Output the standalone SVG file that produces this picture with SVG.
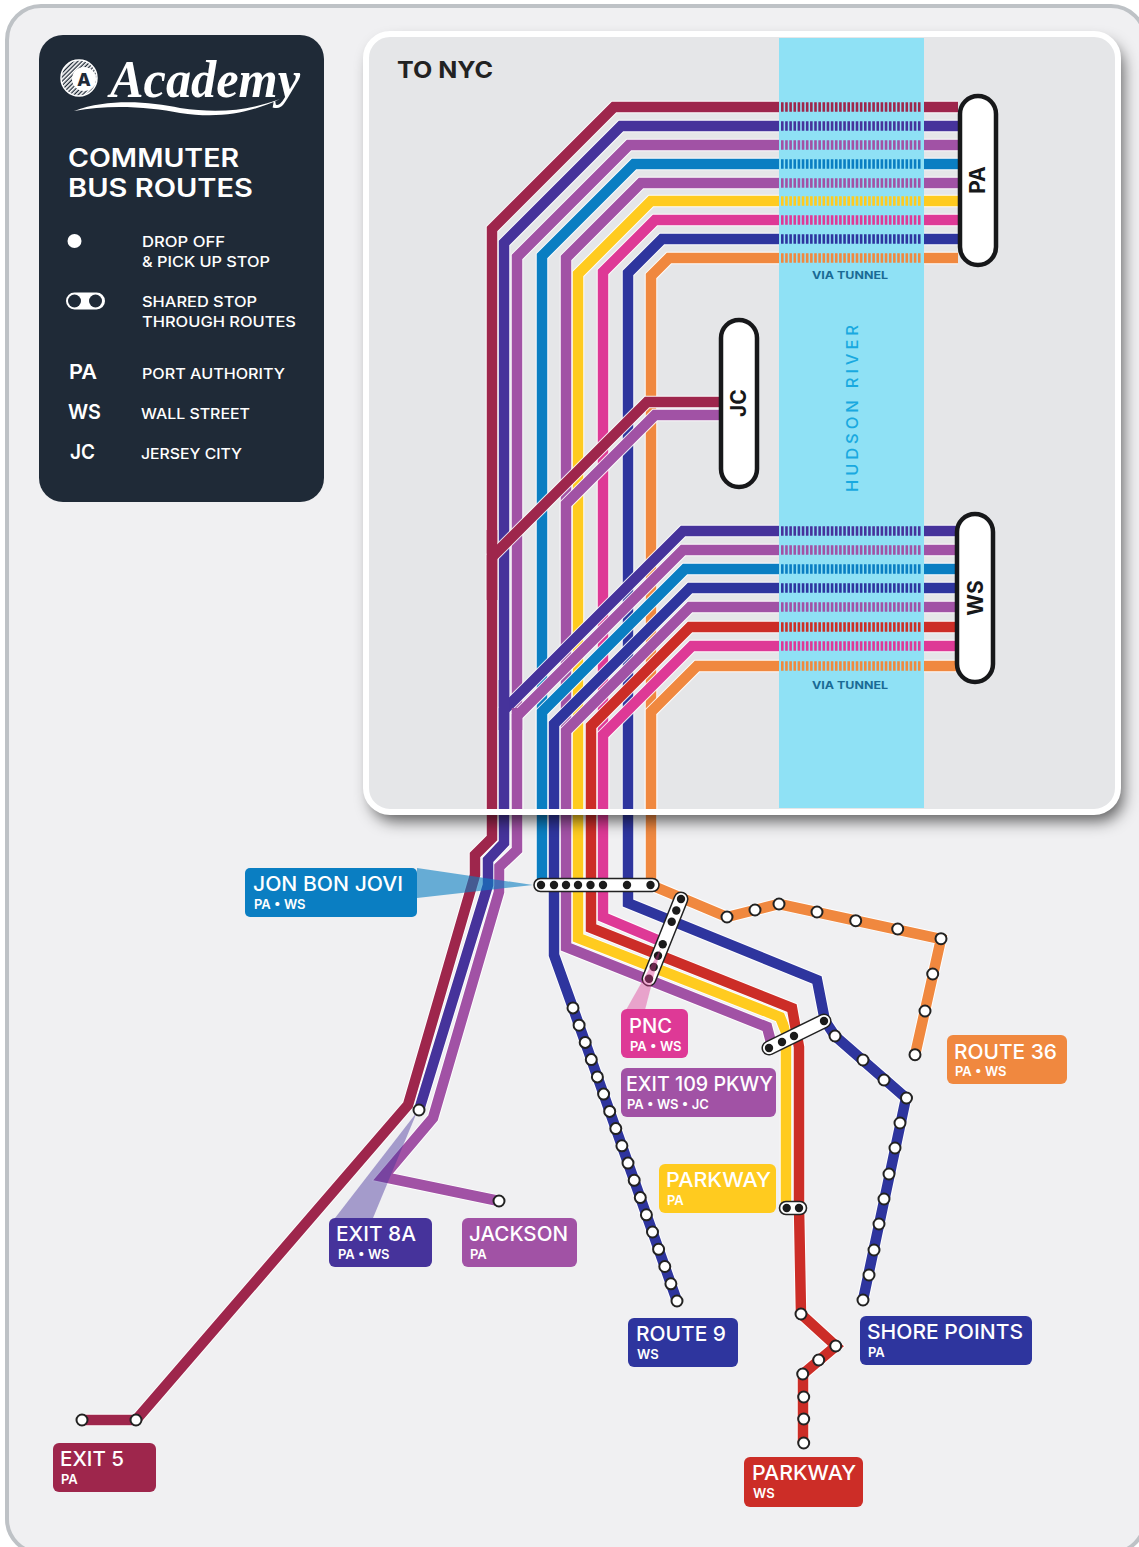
<svg xmlns="http://www.w3.org/2000/svg" xmlns:xlink="http://www.w3.org/1999/xlink" width="1139" height="1547" viewBox="0 0 1139 1547">
<style>
text{font-family:Inter,"Open Sans","Liberation Sans",sans-serif}
.r{fill:none;stroke-width:10.5;stroke-linejoin:miter}
.c{fill:none;stroke:#fff;stroke-opacity:.9;stroke-width:12.5}
.ma{stroke:#9E264C}.bl{stroke:#46339B}.pu{stroke:#A152A5}.sk{stroke:#0A7EC2}.ye{stroke:#FFCB1F}.mg{stroke:#DE3996}.na{stroke:#2E359E}.or{stroke:#F0883F}.rd{stroke:#CC2D27}
.t{fill:none;stroke-width:9.5;stroke-dasharray:2.6 1.55}
.s{fill:#fff;stroke:#222;stroke-width:2}
.d{fill:#1b1b1b}
.pill{fill:#fff;stroke:#17181a;stroke-width:4.5}
.bar{fill:#fff;stroke:#222;stroke-width:1.6}
.lb{fill:#fff;font-size:20.5px;font-weight:500}
.sb{fill:#fff;font-size:13px;font-weight:600}
.lg{fill:#fff;font-size:14.5px;font-weight:500}
.lk{fill:#fff;font-size:20px;font-weight:600}
.hd{fill:#fff;font-size:25.5px;font-weight:600}
.pt{fill:#17181a;font-size:21px;font-weight:700;text-anchor:middle}
.vt{fill:#1A6A94;font-size:11px;font-weight:700;text-anchor:middle}
</style>
<defs>
<filter id="blur" x="-10%" y="-10%" width="120%" height="120%"><feGaussianBlur stdDeviation="8"/></filter>
<clipPath id="outside"><path clip-rule="evenodd" d="M0 0H1139V1547H0Z M390 34H1094A24 24 0 0 1 1118 58V788A24 24 0 0 1 1094 812H390A24 24 0 0 1 366 788V58A24 24 0 0 1 390 34Z"/></clipPath>
<pattern id="hatch" width="3" height="3" patternUnits="userSpaceOnUse" patternTransform="rotate(-45)"><rect width="3" height="1.7" fill="#fff"/></pattern>
<path id="pa1" d="M958 107H924M779 107H614L492 229V838L475 855V875L408 1105L136 1420H82"/>
<path id="pa2" d="M958 126H924M779 126H621L504 243V843L488 860V885L419 1110"/>
<path id="pa3" d="M958 145H924M779 145H629L517 257V850L499 867V892L433 1118L383 1177L499 1201"/>
<path id="pa4" d="M958 164H924M779 164H634L542 256V885"/>
<path id="pa5" d="M958 183H924M779 183H641L566 258V947L767 1027L772 1046"/>
<path id="pa6" d="M958 201H924M779 201H651L578 274V938L780 1017L786 1032V1208"/>
<path id="pa7" d="M958 220H924M779 220H655L603 272V917L660 941"/>
<path id="pa8" d="M958 239H924M779 239H662L628 273V903L817 980L825 1021L835 1036L906 1098L863 1300"/>
<path id="pa9" d="M958 258H924M779 258H669L651 276V885L727 917L755 910L779 904L941 939L915 1055"/>
<path id="jc1" d="M720 402H647L492 557V600"/>
<path id="jc2" d="M720 415H655L566 504V560"/>
<path id="ws1" d="M956 531H924M779 531H683L504 710V812"/>
<path id="ws2" d="M956 550H924M779 550H683L517 716V812"/>
<path id="ws3" d="M956 569H924M779 569H685L542 712V812"/>
<path id="ws4" d="M956 588H924M779 588H690L554 724V955L573 1008L677 1301"/>
<path id="ws5" d="M956 607H924M779 607H690L566 731V812"/>
<path id="ws6" d="M956 627H924M779 627H690L591 726V928L792 1008L799 1047V1207L801 1314L836 1346L803 1374V1443"/>
<path id="ws7" d="M956 646H924M779 646H692L603 735V812"/>
<path id="ws8" d="M956 666H924M779 666H697L651 712V812"/>
</defs>

<rect width="1139" height="1547" fill="#fff"/>
<rect id="page" x="7" y="6" width="1138" height="1547" rx="34" fill="#F0F0F2" stroke="#BEC2C6" stroke-width="4"/>
<rect id="panel-fill" x="366" y="34" width="752" height="778" rx="24" fill="#E5E6E8"/>
<rect id="river" x="779" y="38" width="145" height="770" fill="#8FE1F5"/>

<g id="connectors">
<use href="#pa9" class="c"/><use href="#pa9" class="r or"/>
<use href="#pa8" class="c"/><use href="#pa8" class="r na"/>
<use href="#pa7" class="c"/><use href="#pa7" class="r mg"/>
<use href="#pa6" class="c"/><use href="#pa6" class="r ye"/>
<use href="#pa5" class="c"/><use href="#pa5" class="r pu"/>
<use href="#pa4" class="c"/><use href="#pa4" class="r sk"/>
<use href="#pa3" class="c"/><use href="#pa3" class="r pu"/>
<use href="#pa2" class="c"/><use href="#pa2" class="r bl"/>
<use href="#pa1" class="c"/><use href="#pa1" class="r ma"/>
<use href="#jc2" class="c"/><use href="#jc2" class="r pu"/>
<use href="#jc1" class="c"/><use href="#jc1" class="r ma"/>
<use href="#ws8" class="c"/><use href="#ws8" class="r or"/>
<use href="#ws7" class="c"/><use href="#ws7" class="r mg"/>
<use href="#ws6" class="c"/><use href="#ws6" class="r rd"/>
<use href="#ws5" class="c"/><use href="#ws5" class="r pu"/>
<use href="#ws4" class="c"/><use href="#ws4" class="r na"/>
<use href="#ws3" class="c"/><use href="#ws3" class="r sk"/>
<use href="#ws2" class="c"/><use href="#ws2" class="r pu"/>
<use href="#ws1" class="c"/><use href="#ws1" class="r bl"/>
<path class="r ma" d="M492 530V600"/>
<path class="r bl" d="M504 680V730"/>
<path class="r pu" d="M517 708V730"/>
<g id="tunnels">
<path class="t ma" d="M781 107H922"/><path class="t bl" d="M781 126H922"/><path class="t pu" d="M781 145H922"/><path class="t sk" d="M781 164H922"/><path class="t pu" d="M781 183H922"/><path class="t ye" d="M781 201H922"/><path class="t mg" d="M781 220H922"/><path class="t na" d="M781 239H922"/><path class="t or" d="M781 258H922"/>
<path class="t bl" d="M781 531H922"/><path class="t pu" d="M781 550H922"/><path class="t sk" d="M781 569H922"/><path class="t na" d="M781 588H922"/><path class="t pu" d="M781 607H922"/><path class="t rd" d="M781 627H922"/><path class="t mg" d="M781 646H922"/><path class="t or" d="M781 666H922"/>
</g>
</g>

<g id="panel-edge">
<g clip-path="url(#outside)"><rect x="371" y="43" width="752" height="778" rx="24" fill="#000" fill-opacity=".62" filter="url(#blur)"/></g>
<rect x="366" y="34" width="752" height="778" rx="24" fill="none" stroke="#fff" stroke-width="6"/>
</g>

<g id="river-labels">
<text x="397" y="78" fill="#222" font-size="23" font-weight="700" textLength="96" lengthAdjust="spacingAndGlyphs">TO NYC</text>
<text class="vt" x="850" y="279" textLength="76" lengthAdjust="spacingAndGlyphs">VIA TUNNEL</text>
<text class="vt" x="850" y="689" textLength="76" lengthAdjust="spacingAndGlyphs">VIA TUNNEL</text>
<text transform="translate(858 492) rotate(-90)" fill="#19A9E0" font-size="16.5" font-weight="500" textLength="167">HUDSON RIVER</text>
</g>

<g id="stop-PA"><rect class="pill" x="960" y="96" width="36" height="169" rx="18"/><text class="pt" transform="translate(985 180) rotate(-90)">PA</text></g>
<g id="stop-JC"><rect class="pill" x="721" y="320" width="36" height="167" rx="18"/><text class="pt" transform="translate(746 403) rotate(-90)">JC</text></g>
<g id="stop-WS"><rect class="pill" x="957" y="514" width="36" height="168" rx="18"/><text class="pt" transform="translate(983 598) rotate(-90)">WS</text></g>

<g id="callouts">
<polygon points="417,868 533,885 417,898" fill="#0A7EC2" fill-opacity=".6"/>
<polygon points="417,1112 335,1218 373,1218" fill="#46339B" fill-opacity=".45"/>
</g>

<g id="shared-stops">
<g id="bar-jonbonjovi"><rect class="bar" x="534" y="878.5" width="125" height="13" rx="6.5"/>
<circle class="d" cx="541" cy="885" r="4.2"/><circle class="d" cx="554" cy="885" r="4.2"/><circle class="d" cx="566" cy="885" r="4.2"/><circle class="d" cx="578" cy="885" r="4.2"/><circle class="d" cx="590.5" cy="885" r="4.2"/><circle class="d" cx="603" cy="885" r="4.2"/><circle class="d" cx="627" cy="885" r="4.2"/><circle class="d" cx="650.5" cy="885" r="4.2"/></g>
<g id="bar-pnc"><path d="M681 899L649 979" stroke="#222" stroke-width="15" stroke-linecap="round"/><path d="M681 899L649 979" stroke="#fff" stroke-width="12" stroke-linecap="round"/>
<circle class="d" cx="681" cy="899" r="4.2"/><circle class="d" cx="676.3" cy="910.5" r="4.2"/><circle class="d" cx="671.7" cy="921.7" r="4.2"/><circle class="d" cx="662.7" cy="944.3" r="4.2"/><circle class="d" cx="658" cy="955.7" r="4.2"/><circle class="d" cx="653.7" cy="967" r="4.2"/><circle class="d" cx="649" cy="978.7" r="4.2"/></g>
<polygon points="661,948 626,1010 645,1010" fill="#DE3996" fill-opacity=".42"/>
<g id="bar-mid"><path d="M769 1048L824 1021" stroke="#222" stroke-width="15" stroke-linecap="round"/><path d="M769 1048L824 1021" stroke="#fff" stroke-width="12" stroke-linecap="round"/>
<circle class="d" cx="769" cy="1048" r="4.2"/><circle class="d" cx="782" cy="1042" r="4.2"/><circle class="d" cx="794" cy="1036" r="4.2"/><circle class="d" cx="824" cy="1021" r="4.2"/></g>
<g id="bar-parkway"><rect class="bar" x="779.5" y="1201.5" width="27" height="13" rx="6.5"/><circle class="d" cx="786.7" cy="1208" r="4.2"/><circle class="d" cx="799" cy="1208" r="4.2"/></g>
</g>

<g id="stops">
<circle class="s" cx="136" cy="1420" r="5.5"/><circle class="s" cx="82" cy="1420" r="5.5"/>
<circle class="s" cx="419" cy="1110" r="5.5"/><circle class="s" cx="499" cy="1201" r="5.5"/>
<circle class="s" cx="677" cy="1301" r="5.5"/><circle class="s" cx="670.9" cy="1283.8" r="5.5"/><circle class="s" cx="664.8" cy="1266.5" r="5.5"/><circle class="s" cx="658.6" cy="1249.3" r="5.5"/><circle class="s" cx="652.5" cy="1232" r="5.5"/><circle class="s" cx="646.4" cy="1214.8" r="5.5"/><circle class="s" cx="640.3" cy="1197.6" r="5.5"/><circle class="s" cx="634.2" cy="1180.3" r="5.5"/><circle class="s" cx="628" cy="1163.1" r="5.5"/><circle class="s" cx="621.9" cy="1145.8" r="5.5"/><circle class="s" cx="615.8" cy="1128.6" r="5.5"/><circle class="s" cx="609.7" cy="1111.4" r="5.5"/><circle class="s" cx="603.6" cy="1094.1" r="5.5"/><circle class="s" cx="597.4" cy="1076.9" r="5.5"/><circle class="s" cx="591.3" cy="1059.6" r="5.5"/><circle class="s" cx="585.2" cy="1042.4" r="5.5"/><circle class="s" cx="579.1" cy="1025.2" r="5.5"/><circle class="s" cx="573" cy="1007.9" r="5.5"/>
<circle class="s" cx="835" cy="1036" r="5.5"/><circle class="s" cx="863" cy="1060" r="5.5"/><circle class="s" cx="884" cy="1080" r="5.5"/><circle class="s" cx="906.5" cy="1098" r="5.5"/><circle class="s" cx="900" cy="1123" r="5.5"/><circle class="s" cx="895" cy="1148" r="5.5"/><circle class="s" cx="889" cy="1174" r="5.5"/><circle class="s" cx="884" cy="1199" r="5.5"/><circle class="s" cx="879" cy="1224" r="5.5"/><circle class="s" cx="874" cy="1250" r="5.5"/><circle class="s" cx="869" cy="1275" r="5.5"/><circle class="s" cx="863" cy="1300" r="5.5"/>
<circle class="s" cx="801" cy="1314" r="5.5"/><circle class="s" cx="835.7" cy="1346" r="5.5"/><circle class="s" cx="818.7" cy="1360" r="5.5"/><circle class="s" cx="802.7" cy="1374" r="5.5"/><circle class="s" cx="803.7" cy="1397" r="5.5"/><circle class="s" cx="803.7" cy="1419" r="5.5"/><circle class="s" cx="803.7" cy="1443" r="5.5"/>
<circle class="s" cx="727" cy="917" r="5.5"/><circle class="s" cx="755" cy="910" r="5.5"/><circle class="s" cx="779" cy="904" r="5.5"/><circle class="s" cx="817" cy="912" r="5.5"/><circle class="s" cx="855.7" cy="920.7" r="5.5"/><circle class="s" cx="897.7" cy="929" r="5.5"/><circle class="s" cx="941" cy="938.7" r="5.5"/><circle class="s" cx="932.7" cy="974" r="5.5"/><circle class="s" cx="925" cy="1011" r="5.5"/><circle class="s" cx="915" cy="1054.7" r="5.5"/>
</g>

<g id="label-jonbonjovi"><rect x="245" y="868" width="172" height="49" rx="5" fill="#0A7EC2"/><text class="lb" x="253" y="891" textLength="150" lengthAdjust="spacingAndGlyphs">JON BON JOVI</text><text class="sb" x="254" y="909">PA • WS</text></g>
<g id="label-pnc"><rect x="621" y="1009" width="67" height="49" rx="6" fill="#DE3996"/><text class="lb" x="629" y="1033" textLength="43" lengthAdjust="spacingAndGlyphs">PNC</text><text class="sb" x="630" y="1051">PA • WS</text></g>
<g id="label-exit109"><rect x="621" y="1068" width="155" height="49" rx="6" fill="#A152A5"/><text class="lb" x="626" y="1091" textLength="147" lengthAdjust="spacingAndGlyphs">EXIT 109 PKWY</text><text class="sb" x="627" y="1109">PA • WS • JC</text></g>
<g id="label-parkway-pa"><rect x="659" y="1164" width="117" height="49" rx="6" fill="#FFCB1F"/><text class="lb" x="666" y="1187" textLength="105" lengthAdjust="spacingAndGlyphs">PARKWAY</text><text class="sb" x="667" y="1205">PA</text></g>
<g id="label-route36"><rect x="947" y="1035" width="120" height="49" rx="6" fill="#F0883F"/><text class="lb" x="954" y="1059" textLength="103" lengthAdjust="spacingAndGlyphs">ROUTE 36</text><text class="sb" x="955" y="1076">PA • WS</text></g>
<g id="label-exit8a"><rect x="329" y="1218" width="103" height="49" rx="6" fill="#46339B"/><text class="lb" x="336" y="1241" textLength="80" lengthAdjust="spacingAndGlyphs">EXIT 8A</text><text class="sb" x="338" y="1259">PA • WS</text></g>
<g id="label-jackson"><rect x="462" y="1218" width="115" height="49" rx="6" fill="#A152A5"/><text class="lb" x="469" y="1241" textLength="99" lengthAdjust="spacingAndGlyphs">JACKSON</text><text class="sb" x="470" y="1259">PA</text></g>
<g id="label-route9"><rect x="628" y="1318" width="110" height="49" rx="6" fill="#2E359E"/><text class="lb" x="636" y="1341" textLength="90" lengthAdjust="spacingAndGlyphs">ROUTE 9</text><text class="sb" x="637" y="1359">WS</text></g>
<g id="label-shorepoints"><rect x="860" y="1316" width="172" height="49" rx="6" fill="#2E359E"/><text class="lb" x="867" y="1339" textLength="156" lengthAdjust="spacingAndGlyphs">SHORE POINTS</text><text class="sb" x="868" y="1357">PA</text></g>
<g id="label-parkway-ws"><rect x="744" y="1457" width="119" height="50" rx="6" fill="#CC2D27"/><text class="lb" x="752" y="1480" textLength="104" lengthAdjust="spacingAndGlyphs">PARKWAY</text><text class="sb" x="753" y="1498">WS</text></g>
<g id="label-exit5"><rect x="53" y="1443" width="103" height="49" rx="6" fill="#9E264C"/><text class="lb" x="60" y="1466" textLength="64" lengthAdjust="spacingAndGlyphs">EXIT 5</text><text class="sb" x="61" y="1484">PA</text></g>

<g id="legend">
<rect x="39" y="35" width="285" height="467" rx="24" fill="#1F2A37"/>
<circle cx="79" cy="78" r="18" fill="url(#hatch)" stroke="#fff" stroke-width="1.5"/>
<circle cx="84" cy="79" r="12" fill="#fff"/>
<text x="84" y="85.5" fill="#1F2A37" font-size="18" font-weight="800" text-anchor="middle">A</text>
<text x="110" y="97" fill="#fff" font-size="52" font-style="italic" font-weight="700" style="font-family:'Liberation Serif',serif" textLength="190" lengthAdjust="spacingAndGlyphs">Academy</text>
<path d="M74 111C110 98 150 102 180 108C220 114 250 110 280 99C250 113 220 119 180 113C150 107 110 104 74 111Z" fill="#fff"/>
<text class="hd" x="68" y="167" textLength="171" lengthAdjust="spacingAndGlyphs">COMMUTER</text>
<text class="hd" x="68" y="197" textLength="185" lengthAdjust="spacingAndGlyphs">BUS ROUTES</text>
<circle cx="74.5" cy="241" r="7" fill="#fff"/>
<text class="lg" x="142" y="247" textLength="83" lengthAdjust="spacingAndGlyphs">DROP OFF</text><text class="lg" x="142" y="267" textLength="128" lengthAdjust="spacingAndGlyphs">&amp; PICK UP STOP</text>
<rect x="66" y="292.5" width="39" height="17" rx="8.5" fill="#fff"/><circle cx="74.5" cy="301" r="6.5" fill="#1F2A37"/><circle cx="95.5" cy="301" r="6.5" fill="#1F2A37"/>
<text class="lg" x="142" y="307" textLength="115" lengthAdjust="spacingAndGlyphs">SHARED STOP</text><text class="lg" x="142" y="326.5" textLength="154" lengthAdjust="spacingAndGlyphs">THROUGH ROUTES</text>
<text class="lk" x="69" y="379" textLength="28" lengthAdjust="spacingAndGlyphs">PA</text><text class="lg" x="142" y="379" textLength="143" lengthAdjust="spacingAndGlyphs">PORT AUTHORITY</text>
<text class="lk" x="68" y="418.5" textLength="33" lengthAdjust="spacingAndGlyphs">WS</text><text class="lg" x="141" y="418.5" textLength="109" lengthAdjust="spacingAndGlyphs">WALL STREET</text>
<text class="lk" x="70" y="459" textLength="25" lengthAdjust="spacingAndGlyphs">JC</text><text class="lg" x="141" y="458.5" textLength="101" lengthAdjust="spacingAndGlyphs">JERSEY CITY</text>
</g>
</svg>
